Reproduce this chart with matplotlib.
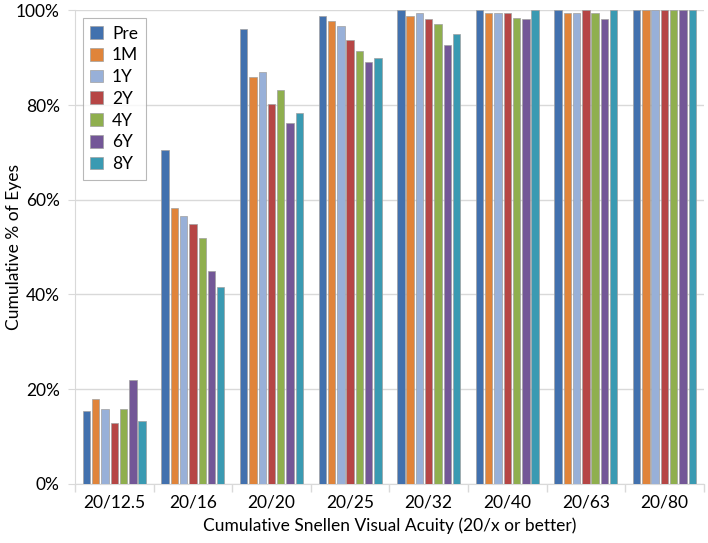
import numpy as np
import matplotlib
matplotlib.use("Agg")
import matplotlib.pyplot as plt
from matplotlib.ticker import PercentFormatter

plt.rcParams["font.family"] = ["Lato", "DejaVu Sans"]

# cumulative % of eyes reaching each Snellen acuity
categories = ["20/12.5", "20/16", "20/20", "20/25", "20/32", "20/40", "20/63", "20/80"]
series = ["Pre", "1M", "1Y", "2Y", "4Y", "6Y", "8Y"]

pre = [15.3, 70.6, 96.0, 98.9, 100.0, 100.0, 100.0, 100.0]
m1 = [18.0, 58.2, 85.9, 97.7, 98.9, 99.4, 99.4, 100.0]
y1 = [15.8, 56.5, 87.0, 96.6, 99.4, 99.4, 99.4, 100.0]
y2 = [12.9, 54.8, 80.2, 93.8, 98.2, 99.4, 100.0, 100.0]
y4 = [15.8, 52.0, 83.1, 91.5, 97.2, 98.3, 99.4, 100.0]
y6 = [22.0, 45.0, 76.2, 89.0, 92.7, 98.2, 98.2, 100.0]
y8 = [13.3, 41.6, 78.3, 90.0, 95.0, 100.0, 100.0, 100.0]

colors = ["#4271AE", "#E0843A", "#98B0D8", "#B64645", "#8FAF4E", "#735797", "#3A9AB2"]

fig = plt.figure(figsize=(7.08, 5.43), dpi=100)
ax = fig.add_axes([0.106, 0.109, 0.888, 0.872])

x = np.arange(len(categories))
slot = 0.118
width = 0.094
for i, (name, vals) in enumerate(zip(series, [pre, m1, y1, y2, y4, y6, y8])):
    offs = (i - 3) * slot
    ax.bar(x + offs, vals, width=width, color=colors[i], edgecolor="#A0A0A0",
           linewidth=0.5, label=name, zorder=3)

ax.set_xlim(-0.5, len(categories) - 0.5)
ax.set_ylim(0, 100)
ax.set_yticks(np.arange(0, 101, 20))
ax.yaxis.set_major_formatter(PercentFormatter(decimals=0))
ax.set_xticks(x)
ax.set_xticklabels(categories)
ax.set_xticks(np.arange(-0.5, len(categories)), minor=True)
ax.tick_params(axis="x", which="major", length=0, labelsize=12.5, pad=8)
ax.tick_params(axis="x", which="minor", length=6, color="#D9D9D9", width=1)
ax.tick_params(axis="y", length=5, color="#D9D9D9", labelsize=12.5, pad=6)

ax.grid(axis="y", color="#D9D9D9", linewidth=1, zorder=0)
for s in ["top", "right"]:
    ax.spines[s].set_visible(False)
ax.spines["left"].set_color("#D9D9D9")
ax.spines["bottom"].set_color("#D9D9D9")

ax.set_xlabel("Cumulative Snellen Visual Acuity (20/x or better)", fontsize=12.5)
ax.set_ylabel("Cumulative % of Eyes", fontsize=12.5)
ax.xaxis.set_label_coords(0.5, -0.072)
ax.yaxis.set_label_coords(-0.085, 0.5)

leg = ax.legend(loc="upper left", bbox_to_anchor=(0.012, 0.984), borderaxespad=0,
                fontsize=12.5, frameon=True, fancybox=False, edgecolor="#A6A6A6",
                handlelength=0.75, handleheight=0.75, handletextpad=0.5,
                labelspacing=0.33, borderpad=0.45)
leg.get_frame().set_linewidth(0.8)

fig.savefig("out.png", dpi=100)
